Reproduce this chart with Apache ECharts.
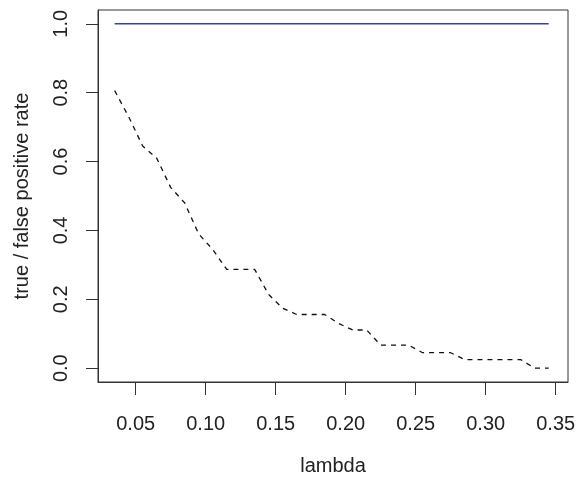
<!DOCTYPE html>
<html>
<head>
<meta charset="utf-8">
<script src="https://cdn.jsdelivr.net/npm/echarts@6/dist/echarts.min.js"></script>
<style>
  html, body { margin: 0; padding: 0; background: #fff; }
  #chart { width: 579px; height: 482px; }
</style>
</head>
<body>
<div id="chart"></div>
<script>
// lambda grid and the two rates
const lambda = [0.035, 0.045, 0.055, 0.065, 0.075, 0.085, 0.095, 0.105, 0.115, 0.125,
  0.135, 0.145, 0.155, 0.165, 0.175, 0.185, 0.195, 0.205, 0.215, 0.225,
  0.235, 0.245, 0.255, 0.265, 0.275, 0.285, 0.295, 0.305, 0.315, 0.325,
  0.335, 0.345]
const truePos = [1, 1, 1, 1, 1, 1, 1, 1, 1, 1,
  1, 1, 1, 1, 1, 1, 1, 1, 1, 1,
  1, 1, 1, 1, 1, 1, 1, 1, 1, 1,
  1, 1]
const falsePos = [0.806, 0.73, 0.645, 0.61, 0.525, 0.48, 0.39, 0.345, 0.287, 0.287,
  0.287, 0.214, 0.174, 0.156, 0.156, 0.156, 0.13, 0.111, 0.111, 0.067,
  0.067, 0.067, 0.045, 0.045, 0.045, 0.025, 0.025, 0.025, 0.025, 0.025,
  0, 0]
const xTicks = [0.05, 0.10, 0.15, 0.20, 0.25, 0.30, 0.35]
const yTicks = [0, 0.2, 0.4, 0.6, 0.8, 1.0]

const xMin = 0.0231
const xMax = 0.3588

const chart = echarts.init(document.getElementById('chart'))
const font = "'Liberation Sans', Arial, sans-serif"
const textColor = '#222'
const plotBox = {left: 98, top: 10, right: 11, bottom: 100}

chart.setOption({
  animation: false,
  grid: [
    // data grid, draws the box
    Object.assign({show: true, borderColor: '#333', borderWidth: 1}, plotBox),
    // same box again, only to carry the x axis (its y range has no zero)
    Object.assign({show: false}, plotBox)
  ],
  xAxis: [
    {
      gridIndex: 0,
      type: 'value',
      min: xMin,
      max: xMax,
      show: false
    },
    {
      gridIndex: 1,
      type: 'value',
      position: 'bottom',
      min: xMin,
      max: xMax,
      name: 'lambda',
      nameLocation: 'middle',
      nameGap: 74,
      nameTextStyle: {color: textColor, fontSize: 20, fontFamily: font},
      splitLine: {show: false},
      axisLine: {show: true, onZero: false, lineStyle: {color: '#333', width: 1}},
      axisTick: {
        show: true,
        inside: false,
        length: 13,
        customValues: xTicks,
        lineStyle: {color: '#333', width: 1}
      },
      axisLabel: {
        customValues: xTicks,
        margin: 32,
        color: textColor,
        fontSize: 20,
        fontFamily: font,
        formatter: v => v.toFixed(2)
      }
    }
  ],
  yAxis: [
    {
      gridIndex: 0,
      type: 'value',
      min: -0.04,
      max: 1.04,
      name: 'true / false positive rate',
      nameLocation: 'middle',
      nameGap: 66,
      nameRotate: 90,
      nameTextStyle: {color: textColor, fontSize: 20, fontFamily: font},
      splitLine: {show: false},
      axisLine: {show: true, onZero: false, lineStyle: {color: '#333', width: 1}},
      axisTick: {
        show: true,
        length: 12,
        customValues: yTicks,
        lineStyle: {color: '#333'}
      },
      axisLabel: {
        customValues: yTicks,
        rotate: 90,
        margin: 27,
        color: textColor,
        fontSize: 20,
        fontFamily: font,
        formatter: v => v.toFixed(1)
      }
    },
    {
      gridIndex: 1,
      type: 'value',
      min: 1,
      max: 2,
      show: false
    }
  ],
  series: [
    {
      name: 'true positive',
      type: 'line',
      xAxisIndex: 0,
      yAxisIndex: 0,
      symbol: 'none',
      data: lambda.map((x, i) => [x, truePos[i]]),
      lineStyle: {color: '#3a3ab0', width: 1.5}
    },
    {
      name: 'false positive',
      type: 'line',
      xAxisIndex: 0,
      yAxisIndex: 0,
      symbol: 'none',
      data: lambda.map((x, i) => [x, falsePos[i]]),
      lineStyle: {color: '#111', width: 1.3, type: [5, 5]}
    }
  ]
})
</script>
</body>
</html>
